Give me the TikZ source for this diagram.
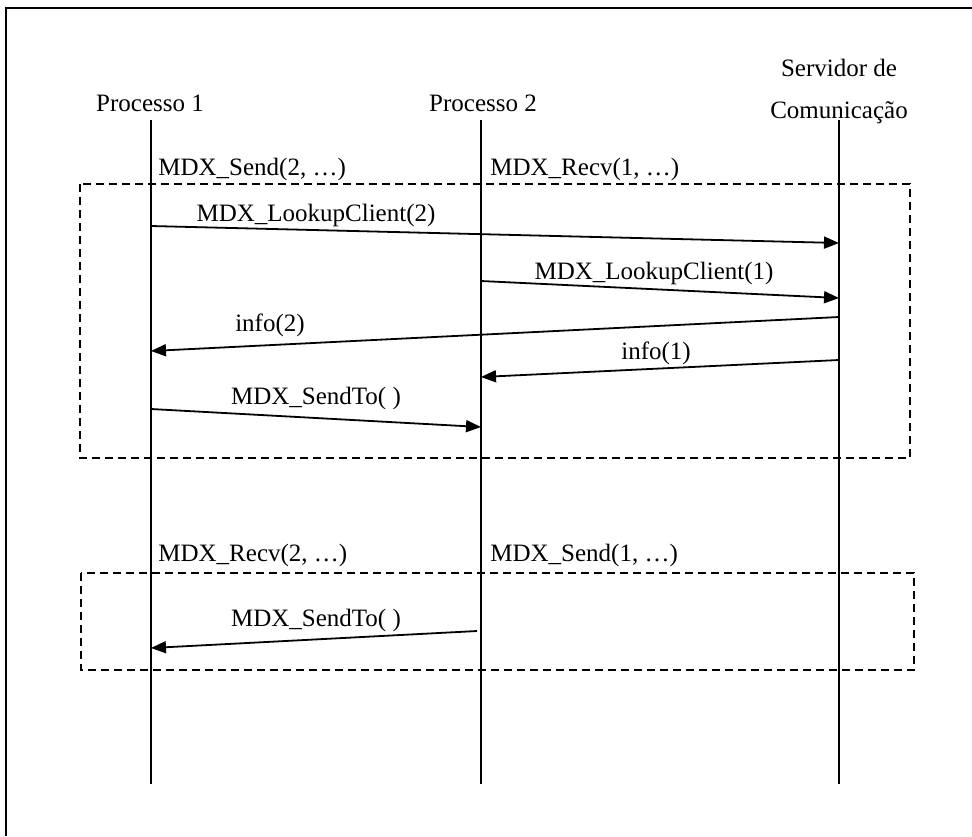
\documentclass[tikz,border=0pt]{standalone}
\usepackage{fontspec}
\setmainfont{Liberation Serif}
\usetikzlibrary{arrows.meta}

\begin{document}
\begin{tikzpicture}[x=0.5pt,y=-0.5pt,
  font=\fontsize{12.5}{15}\selectfont,
  lifeline/.style={line width=0.9pt},
  msg/.style={line width=0.9pt,-{Triangle[length=7.5pt,width=6pt]}},
  region/.style={line width=0.8pt,dash pattern=on 4pt off 2.5pt},
  lbl/.style={inner sep=0pt}]
  \useasboundingbox (0,0) rectangle (972,836);
  % outer frame
  \draw[line width=1.2pt] (6,836) -- (6,8) -- (972,8);
  % lifeline heads
  \node (p1) at (150,103) {Processo 1};
  \node (p2) at (483,103) {Processo 2};
  \node (srv) [align=center] at (839,91) {Servidor de\\[6pt]Comunicação};
  % lifelines
  \coordinate (p1top) at (151,120);  \coordinate (p1bot) at (151,784);
  \coordinate (p2top) at (481,120);  \coordinate (p2bot) at (481,784);
  \coordinate (srvtop) at (839,120); \coordinate (srvbot) at (839,784);
  \draw[lifeline] (p1top) -- (p1bot);
  \draw[lifeline] (p2top) -- (p2bot);
  \draw[lifeline] (srvtop) -- (srvbot);
  % first exchange
  \node (send2) [lbl,anchor=west] at (158,169) {MDX\_Send(2, …)};
  \node (recv1) [lbl,anchor=west] at (490,169) {MDX\_Recv(1, …)};
  \draw[region] (80,184) rectangle (910,458);
  \coordinate (m1s) at (151,226); \coordinate (m1e) at (839,243);
  \draw[msg] (m1s) -- (m1e);
  \node (m1) at (316,215) {MDX\_LookupClient(2)};
  \coordinate (m2s) at (481,281); \coordinate (m2e) at (839,298);
  \draw[msg] (m2s) -- (m2e);
  \node (m2) at (654,273) {MDX\_LookupClient(1)};
  \coordinate (m3s) at (839,317); \coordinate (m3e) at (151,351);
  \draw[msg] (m3s) -- (m3e);
  \node (m3) at (270,325) {info(2)};
  \coordinate (m4s) at (839,360); \coordinate (m4e) at (481,377);
  \draw[msg] (m4s) -- (m4e);
  \node (m4) at (656,353) {info(1)};
  \coordinate (m5s) at (151,409); \coordinate (m5e) at (481,427);
  \draw[msg] (m5s) -- (m5e);
  \node (m5) at (316,398) {MDX\_SendTo( )};
  % second exchange
  \node (recv2) [lbl,anchor=west] at (158,555) {MDX\_Recv(2, …)};
  \node (send1) [lbl,anchor=west] at (490,555) {MDX\_Send(1, …)};
  \draw[region] (81,573) rectangle (914,670);
  \coordinate (m6s) at (477,631); \coordinate (m6e) at (151,648);
  \draw[msg] (m6s) -- (m6e);
  \node (m6) at (316,620) {MDX\_SendTo( )};
\end{tikzpicture}
\end{document}
